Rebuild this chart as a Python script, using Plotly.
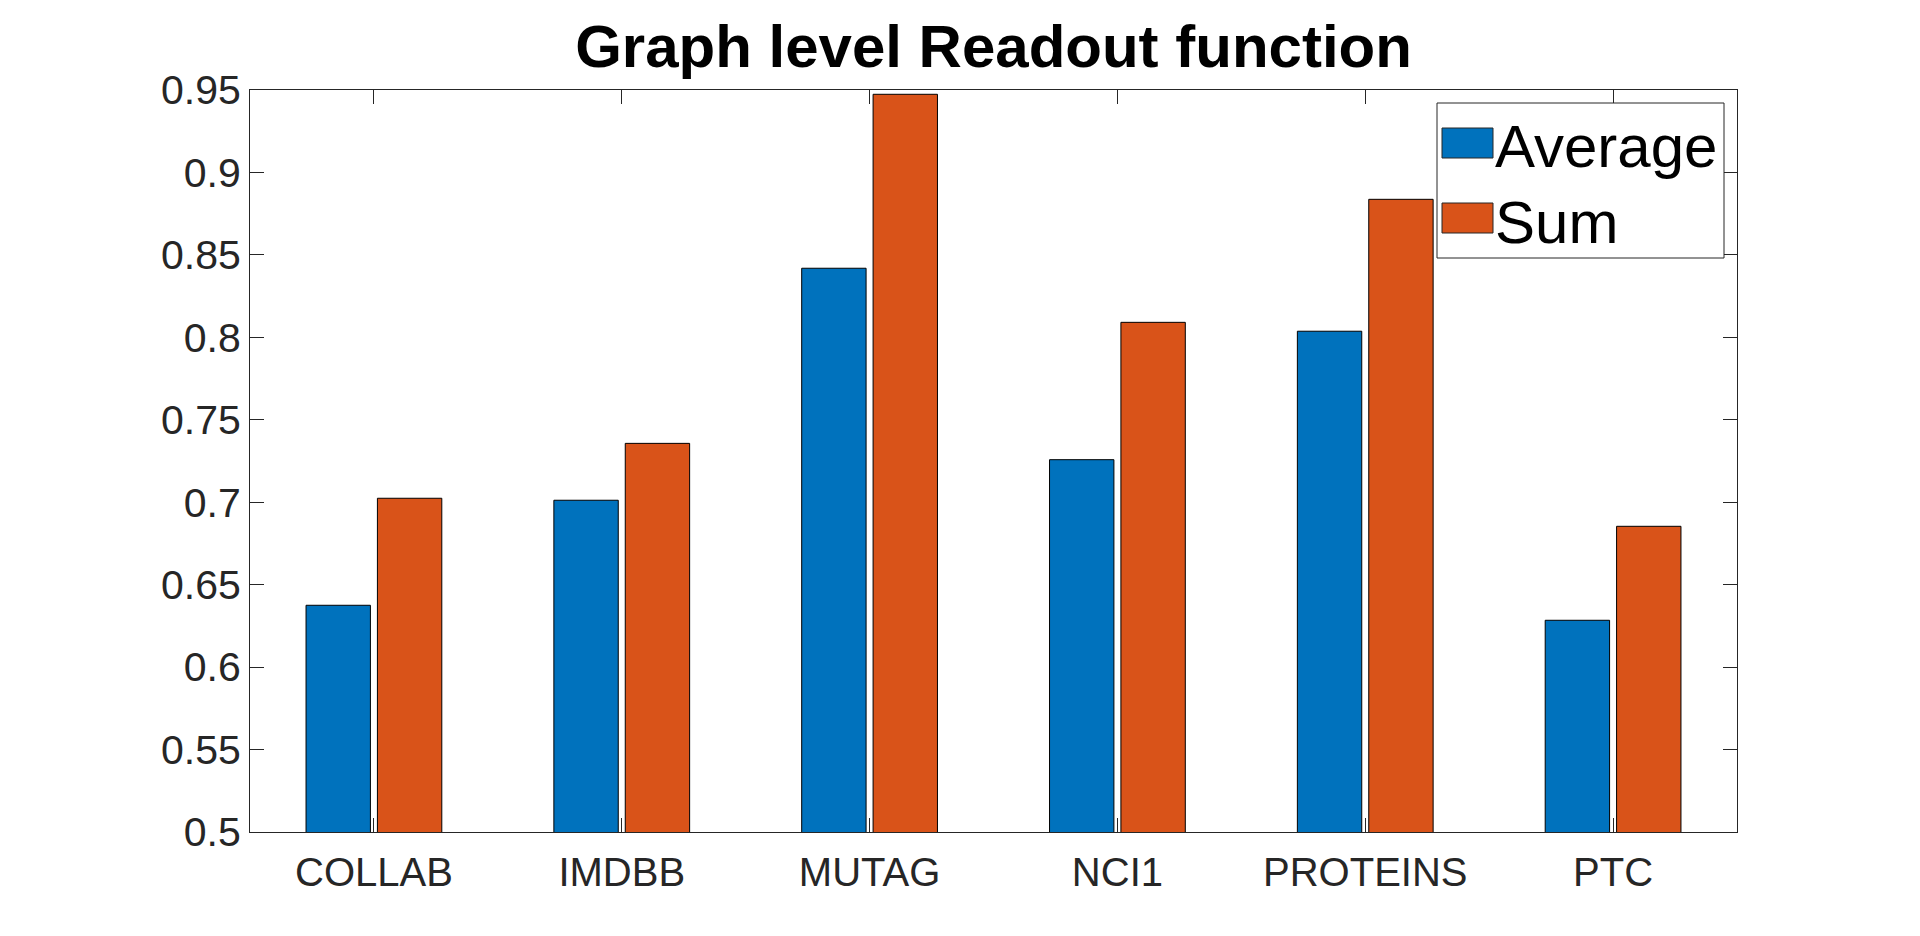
import plotly.graph_objects as go

# ---- data ----
categories = ["COLLAB", "IMDBB", "MUTAG", "NCI1", "PROTEINS", "PTC"]
series_names = ["Average", "Sum"]
average_vals = [0.6375, 0.7012, 0.8419, 0.7258, 0.8037, 0.6284]
sum_vals = [0.7024, 0.7357, 0.9474, 0.8091, 0.8837, 0.6854]
ytick_vals = [0.5, 0.55, 0.6, 0.65, 0.7, 0.75, 0.8, 0.85, 0.9, 0.95]
ytick_text = ["0.5", "0.55", "0.6", "0.65", "0.7", "0.75", "0.8", "0.85", "0.9", "0.95"]
colors = ["#0072BD", "#D95319"]
title_text = "Graph level Readout function"

W, H = 1920, 936
L, R, T, B = 250, 1737, 90, 832  # plot area pixels
FONT = "Liberation Sans, Arial, sans-serif"
AXC = "#262626"

fig = go.Figure()
for name, vals, col in zip(series_names, [average_vals, sum_vals], colors):
    fig.add_trace(go.Bar(
        x=categories, y=vals, name=name,
        marker=dict(color=col, line=dict(color="black", width=1)),
        showlegend=False,
    ))

def px(x):
    return (x - L) / (R - L)

def py(y):
    return (B - y) / (B - T)

shapes = []
annotations = []
# legend box
shapes.append(dict(type="rect", xref="paper", yref="paper",
                   x0=px(1437), x1=px(1724), y0=py(258), y1=py(103),
                   line=dict(color=AXC, width=1), fillcolor="white", layer="above"))
for i, (name, col) in enumerate(zip(series_names, colors)):
    top = 128 + i * 75
    shapes.append(dict(type="rect", xref="paper", yref="paper",
                       x0=px(1442), x1=px(1493), y0=py(top + 30), y1=py(top),
                       line=dict(color=AXC, width=1), fillcolor=col, layer="above"))
    annotations.append(dict(xref="paper", yref="paper", x=px(1493), y=py(top + 19),
                            xanchor="left", yanchor="middle", text=name, showarrow=False,
                            font=dict(family=FONT, size=60, color="black")))

fig.update_layout(
    width=W, height=H,
    margin=dict(l=L, r=W - R, t=T, b=H - B, pad=0),
    paper_bgcolor="white", plot_bgcolor="white",
    barmode="group", bargap=0.424, bargroupgap=0.098,
    title=dict(text="<b>" + title_text + "</b>", x=0.5, xref="paper",
               y=(H - 46) / H, yref="container", xanchor="center", yanchor="middle",
               font=dict(family=FONT, size=60, color="black")),
    xaxis=dict(range=[-0.5, 5.5], showline=True, linecolor=AXC, linewidth=1,
               mirror="ticks", ticks="inside", ticklen=14, tickcolor=AXC,
               ticklabelstandoff=5,
               tickfont=dict(family=FONT, size=40, color=AXC), showgrid=False,
               zeroline=False, fixedrange=True),
    yaxis=dict(range=[0.5, 0.95], showline=True, linecolor=AXC, linewidth=1,
               mirror="ticks", ticks="inside", ticklen=14, tickcolor=AXC,
               tickvals=ytick_vals, ticktext=ytick_text,
               tickfont=dict(family=FONT, size=41, color=AXC), showgrid=False,
               zeroline=False, fixedrange=True),
    shapes=shapes, annotations=annotations,
)

fig.write_html("out.html", config={"displayModeBar": False},
               post_script="document.body.style.margin='0';document.body.style.overflow='hidden';")
